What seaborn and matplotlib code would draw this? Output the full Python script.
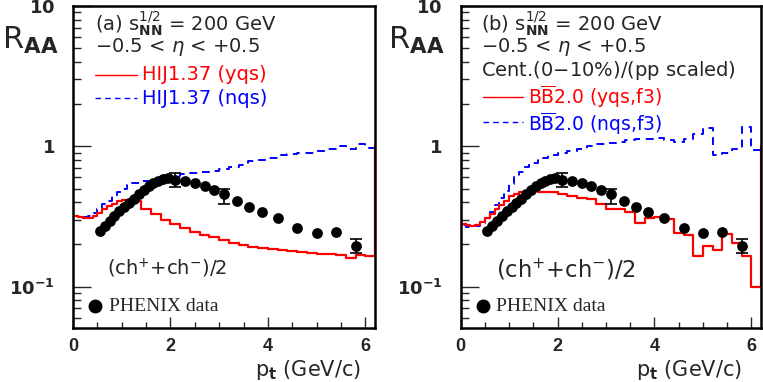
import numpy as np
import pandas as pd
import matplotlib
matplotlib.use("Agg")
import matplotlib.pyplot as plt
import matplotlib.ticker as mticker
import seaborn as sns

# PHENIX charged hadron R_AA
pt_data = [0.55, 0.65, 0.75, 0.85, 0.95, 1.05, 1.15, 1.25, 1.35, 1.45, 1.55, 1.65,
           1.75, 1.85, 1.95, 2.1, 2.3, 2.5, 2.7, 2.9, 3.1, 3.37, 3.62, 3.87, 4.2,
           4.6, 5.0, 5.4, 5.8]
raa_data = [0.25, 0.27, 0.295, 0.32, 0.345, 0.37, 0.395, 0.42, 0.455, 0.49, 0.525, 0.55,
            0.57, 0.58, 0.59, 0.578, 0.565, 0.547, 0.518, 0.485, 0.454, 0.405, 0.369,
            0.338, 0.309, 0.261, 0.240, 0.244, 0.196]
err_pt = [2.1, 3.1, 5.8]
err_val = [0.578, 0.454, 0.196]
err_lo = [0.51, 0.39, 0.173]
err_hi = [0.65, 0.50, 0.219]

# histogram bin edges (fine bins at low pt, 0.2 GeV above)
edges_a = [0.0, 0.1, 0.2, 0.3, 0.4, 0.5, 0.6, 0.7, 0.8, 0.9, 1.0, 1.1, 1.2, 1.4, 1.6,
           1.8, 2.0, 2.2, 2.4, 2.6, 2.8, 3.0, 3.2, 3.4, 3.6, 3.8, 4.0, 4.2, 4.4, 4.6,
           4.8, 5.0, 5.2, 5.4, 5.6, 5.8, 6.0, 6.2]
hij_yqs = [0.32, 0.315, 0.31, 0.31, 0.32, 0.335, 0.355, 0.375, 0.39, 0.405, 0.415, 0.415,
           0.41, 0.36, 0.33, 0.30, 0.28, 0.26, 0.245, 0.235, 0.225, 0.215, 0.205, 0.198,
           0.193, 0.188, 0.185, 0.182, 0.179, 0.176, 0.174, 0.172, 0.17, 0.167, 0.16,
           0.168, 0.164]
hij_nqs = [0.32, 0.315, 0.315, 0.32, 0.335, 0.36, 0.385, 0.41, 0.44, 0.47, 0.50, 0.53,
           0.55, 0.565, 0.585, 0.60, 0.615, 0.63, 0.645, 0.655, 0.67, 0.685, 0.71, 0.74,
           0.78, 0.80, 0.83, 0.86, 0.88, 0.89, 0.90, 0.92, 0.95, 1.0, 0.95, 1.03, 0.98]

edges_b = [0.0, 0.1, 0.2, 0.3, 0.4, 0.5, 0.6, 0.7, 0.8, 0.9, 1.0, 1.1, 1.2, 1.3, 1.4,
           1.6, 1.8, 2.0, 2.2, 2.4, 2.6, 2.8, 3.0, 3.2, 3.4, 3.6, 3.8, 4.0, 4.2, 4.4,
           4.6, 4.8, 5.0, 5.2, 5.4, 5.6, 5.8, 6.0, 6.2]
bb_yqs = [0.28, 0.275, 0.272, 0.275, 0.29, 0.31, 0.33, 0.355, 0.38, 0.41, 0.44, 0.46,
          0.47, 0.48, 0.48, 0.475, 0.47, 0.455, 0.44, 0.43, 0.42, 0.39, 0.36, 0.355,
          0.34, 0.285, 0.31, 0.315, 0.305, 0.24, 0.232, 0.166, 0.196, 0.181, 0.238,
          0.205, 0.166, 0.10]
bb_nqs = [0.275, 0.265, 0.265, 0.27, 0.285, 0.31, 0.34, 0.38, 0.43, 0.48, 0.54, 0.60,
          0.66, 0.71, 0.76, 0.82, 0.86, 0.90, 0.93, 0.96, 1.0, 1.03, 1.06, 1.08, 1.10,
          1.12, 1.13, 1.15, 1.10, 1.07, 1.13, 1.23, 1.35, 0.86, 0.90, 0.95, 1.37, 0.94]

EDGE = 1.0  # histogram border level drawn at x=0 / x=6.2

sns.set_style("ticks")
plt.rcParams["font.family"] = ["DejaVu Sans"]
plt.rcParams["mathtext.fontset"] = "dejavusans"

fig = plt.figure(figsize=(7.63, 3.82), dpi=100)
ax_a = fig.add_axes([0.0957, 0.1414, 0.3958, 0.8429])
ax_b = fig.add_axes([0.6038, 0.1414, 0.3936, 0.8429])


def hist_path(edges, vals, close_right):
    x = [edges[0]] + list(edges)
    y = [EDGE] + list(vals) + [vals[-1]]
    if close_right:
        x = x + [edges[-1]]
        y = y + [EDGE]
    return pd.DataFrame({"x": x, "y": y})


def draw_panel(ax, edges, red_vals, blue_vals):
    blue = hist_path(edges, blue_vals, False)
    red = hist_path(edges, red_vals, True)
    sns.lineplot(data=blue, x="x", y="y", sort=False, estimator=None, ax=ax,
                 color="blue", lw=1.4, drawstyle="steps-post", dashes=False,
                 linestyle=(0, (4, 3)))
    sns.lineplot(data=red, x="x", y="y", sort=False, estimator=None, ax=ax,
                 color="red", lw=1.6, drawstyle="steps-post")
    ax.errorbar(err_pt, err_val,
                yerr=[np.array(err_val) - np.array(err_lo), np.array(err_hi) - np.array(err_val)],
                fmt="none", ecolor="black", elinewidth=1.2, capsize=4, capthick=1.2, zorder=4)
    sns.scatterplot(x=pt_data, y=raa_data, ax=ax, color="black", s=60,
                    edgecolor="black", linewidth=0, zorder=5)

    ax.set_yscale("log")
    ax.set_xlim(0, 6.2)
    ax.set_ylim(0.0507, 10)
    ax.set_xlabel("")
    ax.set_ylabel("")
    for s in ax.spines.values():
        s.set_linewidth(1.8)
        s.set_color("black")
    ax.xaxis.set_major_locator(mticker.MultipleLocator(2))
    ax.xaxis.set_minor_locator(mticker.MultipleLocator(0.5))
    ax.yaxis.set_major_locator(mticker.FixedLocator([0.1, 1, 10]))
    ax.yaxis.set_major_formatter(mticker.FixedFormatter(
        [r"$\mathbf{10^{-1}}$", r"$\mathbf{1}$", r"$\mathbf{10}$"]))
    ax.yaxis.set_minor_locator(mticker.LogLocator(base=10, subs=np.arange(2, 10)))
    ax.yaxis.set_minor_formatter(mticker.NullFormatter())
    ax.xaxis.set_major_formatter(mticker.FuncFormatter(lambda v, p: "%d" % v))
    ax.tick_params(axis="x", which="major", direction="in", length=8, width=1, pad=7,
                   labelsize=13)
    ax.tick_params(axis="x", which="minor", direction="in", length=4, width=1)
    ax.tick_params(axis="y", which="major", direction="in", length=13, width=1, pad=13,
                   labelsize=13)
    ax.tick_params(axis="y", which="minor", direction="in", length=6, width=1)
    for lab in ax.get_xticklabels():
        lab.set_fontweight("bold")
        lab.set_family("Liberation Sans")

    # PHENIX legend entry
    ax.plot([0.074], [0.068], "o", color="black", ms=9, transform=ax.transAxes)
    ax.text(0.118, 0.068, "PHENIX data", transform=ax.transAxes, fontsize=14,
            family="Liberation Serif", va="center", ha="left")


draw_panel(ax_a, edges_a, hij_yqs, hij_nqs)
draw_panel(ax_b, edges_b, bb_yqs, bb_nqs)

txt = dict(fontsize=14, va="center", ha="left")

# panel (a) labels
ax_a.text(0.072, 0.944, r"(a) s$_{\mathbf{NN}}^{1/2}$ = 200 GeV", transform=ax_a.transAxes, **txt)
ax_a.text(0.072, 0.873, r"$-$0.5 < $\eta$ < +0.5", transform=ax_a.transAxes, **txt)
ax_a.plot([0.073, 0.212], [0.786, 0.786], color="red", lw=1, transform=ax_a.transAxes)
ax_a.text(0.228, 0.786, "HIJ1.37 (yqs)", color="red", transform=ax_a.transAxes, **txt)
ax_a.plot([0.073, 0.212], [0.714, 0.714], color="blue", lw=1, ls=(0, (4, 3)),
          transform=ax_a.transAxes)
ax_a.text(0.228, 0.714, "HIJ1.37 (nqs)", color="blue", transform=ax_a.transAxes, **txt)
ax_a.text(0.112, 0.186, r"(ch$^{+}$+ch$^{-}$)/2", transform=ax_a.transAxes,
          fontsize=14, va="center", ha="left")

# panel (b) labels
ax_b.text(0.066, 0.944, r"(b) s$_{\mathbf{NN}}^{1/2}$ = 200 GeV", transform=ax_b.transAxes, **txt)
ax_b.text(0.066, 0.873, r"$-$0.5 < $\eta$ < +0.5", transform=ax_b.transAxes, **txt)
ax_b.text(0.066, 0.801, "Cent.(0$-$10%)/(pp scaled)", transform=ax_b.transAxes, **txt)
bb_txt = dict(fontsize=13.5, va="center", ha="left")
ax_b.plot([0.074, 0.207], [0.718, 0.718], color="red", lw=1, transform=ax_b.transAxes)
ax_b.text(0.225, 0.718, r"B$\overline{\mathrm{B}}$2.0 (yqs,f3)", color="red",
          transform=ax_b.transAxes, **bb_txt)
ax_b.plot([0.074, 0.207], [0.640, 0.640], color="blue", lw=1, ls=(0, (4, 3)),
          transform=ax_b.transAxes)
ax_b.text(0.225, 0.636, r"B$\overline{\mathrm{B}}$2.0 (nqs,f3)", color="blue",
          transform=ax_b.transAxes, **bb_txt)
ax_b.text(0.118, 0.18, r"(ch$^{+}$+ch$^{-}$)/2", transform=ax_b.transAxes,
          fontsize=16.3, va="center", ha="left")

# axis titles
for xpos in (0.002, 0.509):
    fig.text(xpos, 0.895, r"R$_{\mathbf{AA}}$", fontsize=22, va="center", ha="left")
for xpos in (0.334, 0.834):
    fig.text(xpos, 0.032, r"p$_{\mathbf{t}}$ (GeV/c)", fontsize=15, va="center", ha="left")

fig.savefig("out.png", dpi=100)
